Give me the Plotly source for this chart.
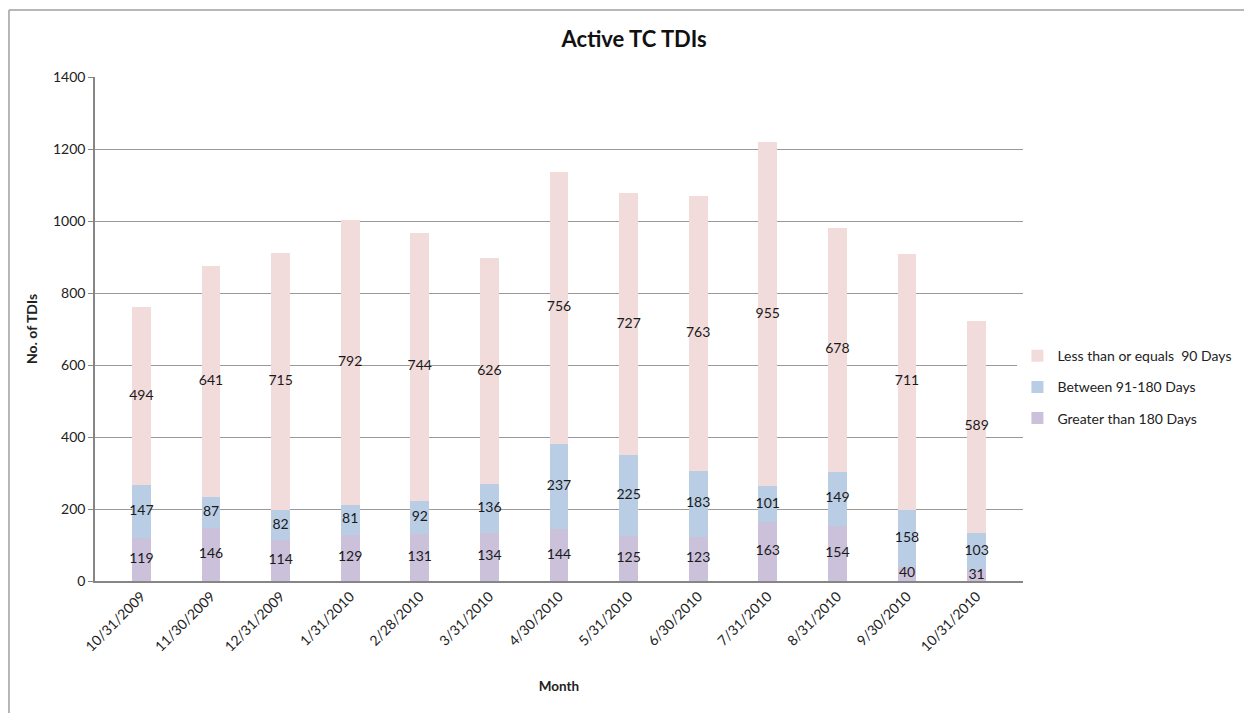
import plotly.graph_objects as go

months = ["10/31/2009", "11/30/2009", "12/31/2009", "1/31/2010", "2/28/2010", "3/31/2010",
          "4/30/2010", "5/31/2010", "6/30/2010", "7/31/2010", "8/31/2010", "9/30/2010", "10/31/2010"]
greater_180 = [119, 146, 114, 129, 131, 134, 144, 125, 123, 163, 154, 40, 31]
between_91_180 = [147, 87, 82, 81, 92, 136, 237, 225, 183, 101, 149, 158, 103]
less_90 = [494, 641, 715, 792, 744, 626, 756, 727, 763, 955, 678, 711, 589]

series = [
    ("Greater than 180 Days", greater_180, "#CCC1DA", 3),
    ("Between 91-180 Days", between_91_180, "#B9CDE5", 2),
    ("Less than or equals  90 Days", less_90, "#F2DCDB", 1),
]

FONT = "Lato, 'Open Sans', sans-serif"
fig = go.Figure()
base = [0] * len(months)
for i, (name, vals, col, rank) in enumerate(series):
    fig.add_trace(go.Bar(
        x=months, y=vals, name=name, marker=dict(color=col, line=dict(width=0)),
        width=0.27, legendgroup=f"g{i}", legendrank=rank, hoverinfo="y+name",
    ))
    mids = [b + v / 2 for b, v in zip(base, vals)]
    fig.add_trace(go.Scatter(
        x=months, y=mids, mode="text", text=[str(v) for v in vals],
        textfont=dict(family=FONT, size=14, color="#1a1a1a"), showlegend=False,
        hoverinfo="skip",
    ))
    base = [b + v for b, v in zip(base, vals)]

fig.update_layout(
    barmode="stack",
    width=1244, height=705,
    margin=dict(l=87, r=229, t=69, b=132, autoexpand=False),
    paper_bgcolor="white", plot_bgcolor="white",
    font=dict(family=FONT, size=12, color="#222"),
    title=dict(text="<b>Active TC TDIs</b>", x=0.581, xref="paper", xanchor="center",
               y=0.955, yref="container", yanchor="middle",
               font=dict(family=FONT, size=22, color="#111")),
    legend=dict(x=0.994, xanchor="left", y=0.478, yanchor="top",
                traceorder="grouped", tracegroupgap=10,
                font=dict(family=FONT, size=14, color="#222")),
    xaxis=dict(tickangle=-45, showline=True, linecolor="#868686", linewidth=1.5,
               showgrid=False, tickfont=dict(family=FONT, size=14),
               title=dict(text="<b>Month</b>", font=dict(family=FONT, size=13.5), standoff=28)),
    yaxis=dict(range=[0, 1400], dtick=200, showline=True, linecolor="#868686", linewidth=1.5,
               gridcolor="#9A9A9A", gridwidth=1, ticks="outside", ticklen=5, tickcolor="#868686",
               tickfont=dict(family=FONT, size=14), zeroline=False,
               title=dict(text="<b>No. of TDIs</b>", font=dict(family=FONT, size=14), standoff=12)),
    shapes=[
        dict(type="line", xref="paper", yref="paper", x0=-0.0927, x1=-0.0927, y0=-0.4, y1=1.133,
             line=dict(color="#A0A0A0", width=1.5)),
        dict(type="line", xref="paper", yref="paper", x0=-0.0927, x1=1.3, y0=1.133, y1=1.133,
             line=dict(color="#A0A0A0", width=1.5)),
    ],
)

fig.write_html("out.html")
